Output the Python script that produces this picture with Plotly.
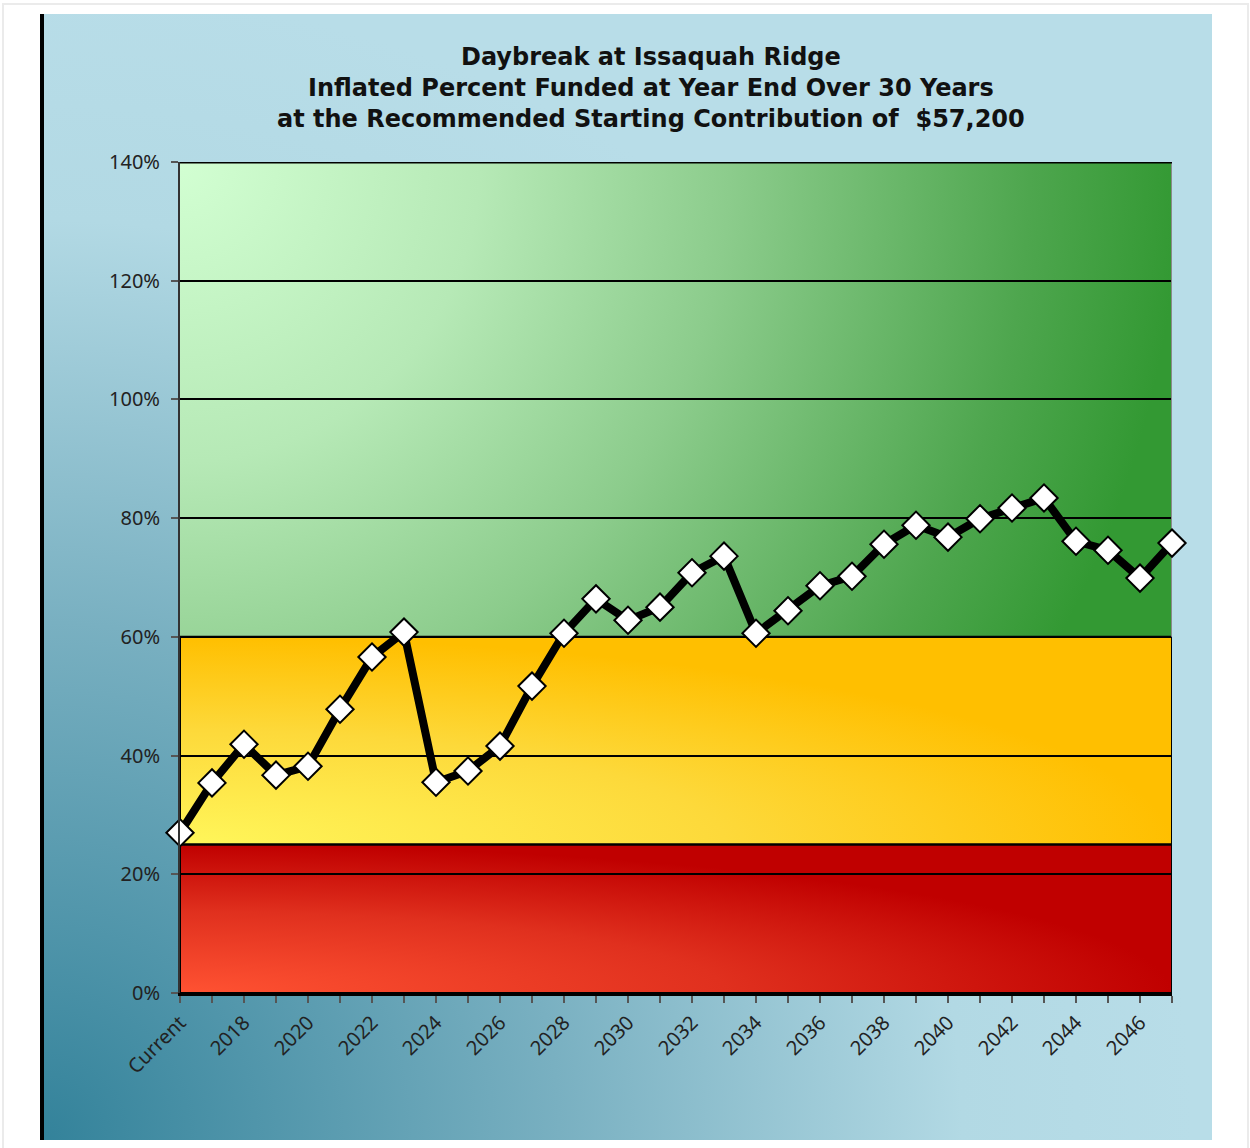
import base64
import plotly.graph_objects as go

# ---------------- data ----------------
categories = ["Current"] + [str(y) for y in range(2017, 2048)]
percent_funded = [27.0, 35.4, 41.9, 36.7, 38.2, 47.8, 56.6, 60.8, 35.5, 37.4,
                  41.6, 51.7, 60.6, 66.4, 62.8, 65.0, 70.8, 73.6, 60.6, 64.4,
                  68.6, 70.2, 75.6, 78.8, 76.8, 79.9, 81.7, 83.4, 76.1, 74.6,
                  69.9, 75.8]
y_ticks = [0, 20, 40, 60, 80, 100, 120, 140]
y_tick_labels = ["0%", "20%", "40%", "60%", "80%", "100%", "120%", "140%"]
band_edges = [0, 25, 60, 140]   # red / yellow / green zones
title_lines = ["Daybreak at Issaquah Ridge",
               "Inflated Percent Funded at Year End Over 30 Years",
               "at the Recommended Starting Contribution of  $57,200"]

x_idx = list(range(len(categories)))
x_labels = [c if i % 2 == 0 else "" for i, c in enumerate(categories)]
x_max = len(categories) - 1

# ---------------- gradient images ----------------
def svg_uri(svg):
    return "data:image/svg+xml;base64," + base64.b64encode(svg.encode()).decode()

def radial_svg(w, h, cx, cy, r, stops):
    st = "".join(f'<stop offset="{o}" stop-color="{c}"/>' for o, c in stops)
    return (f'<svg xmlns="http://www.w3.org/2000/svg" width="{w}" height="{h}" '
            f'viewBox="0 0 {w} {h}" preserveAspectRatio="none">'
            f'<defs><radialGradient id="g" gradientUnits="userSpaceOnUse" '
            f'cx="{cx}" cy="{cy}" r="{r}" fx="{cx}" fy="{cy}">{st}</radialGradient></defs>'
            f'<rect x="0" y="0" width="{w}" height="{h}" fill="url(#g)"/></svg>')

def bbox_radial_svg(stops):
    st = "".join(f'<stop offset="{o}" stop-color="{c}"/>' for o, c in stops)
    return ('<svg xmlns="http://www.w3.org/2000/svg" width="100" height="100" '
            'viewBox="0 0 100 100" preserveAspectRatio="none">'
            '<defs><radialGradient id="g" gradientUnits="userSpaceOnUse" '
            f'cx="0" cy="100" r="100" fx="0" fy="100">{st}</radialGradient></defs>'
            '<rect x="0" y="0" width="100" height="100" fill="url(#g)"/></svg>')

bg_svg = radial_svg(1170, 1126, 0, 1126, 1150,
                    [(0, "#33829a"), (0.45, "#79b0c1"), (0.8, "#b2d9e4"), (1, "#b8dde8")])
green_svg = radial_svg(992, 475, 0, 0, 1000,
                       [(0, "#d2ffd2"), (0.3, "#b6e9b6"), (0.55, "#8ccc8c"),
                        (0.85, "#4ea64e"), (1, "#339933")])
yellow_svg = bbox_radial_svg([(0, "#fff65a"), (0.55, "#fdd93a"), (1, "#ffbf00")])
red_svg = bbox_radial_svg([(0, "#ff5232"), (0.55, "#e0301e"), (1, "#c00000")])

L, R, T, B = 180, 78, 162, 155
W, H = 1250, 1148
pw, ph = W - L - R, H - T - B

def px_x(x):
    return (x - L) / pw

def px_y(y):
    return (H - B - y) / ph

images = [
    dict(source=svg_uri(bg_svg), xref="paper", yref="paper",
         x=px_x(42), y=px_y(14), sizex=px_x(1212) - px_x(42), sizey=px_y(14) - px_y(1140),
         xanchor="left", yanchor="top", sizing="stretch", layer="below"),
]
for (lo, hi), svg in zip(zip(band_edges[:-1], band_edges[1:]), [red_svg, yellow_svg, green_svg]):
    images.append(dict(source=svg_uri(svg), xref="x", yref="y", x=0, y=hi,
                       sizex=x_max, sizey=hi - lo, xanchor="left", yanchor="top",
                       sizing="stretch", layer="below"))

shapes = [
    # outer light frame
    dict(type="rect", xref="paper", yref="paper", x0=px_x(3), x1=px_x(1248),
         y0=px_y(1170), y1=px_y(4), line=dict(color="#ebebeb", width=2)),
    # left black bar
    dict(type="line", xref="paper", yref="paper", x0=px_x(42), x1=px_x(42),
         y0=px_y(14), y1=px_y(1140), line=dict(color="black", width=4)),
    # band outlines (red & yellow)
    dict(type="rect", xref="x", yref="y", x0=0, x1=x_max, y0=band_edges[0], y1=band_edges[1],
         line=dict(color="black", width=2), layer="between"),
    dict(type="rect", xref="x", yref="y", x0=0, x1=x_max, y0=band_edges[1], y1=band_edges[2],
         line=dict(color="black", width=2), layer="between"),
    # green right edge gray
    dict(type="line", xref="x", yref="y", x0=x_max, x1=x_max, y0=band_edges[2], y1=band_edges[3],
         line=dict(color="#8a8a8a", width=2), layer="between"),
    # top border
    dict(type="line", xref="x", yref="y", x0=0, x1=x_max, y0=band_edges[3], y1=band_edges[3],
         line=dict(color="black", width=3), layer="between"),
]

annotations = [
    dict(text="<b>" + "<br>".join(title_lines) + "</b>", xref="paper", yref="paper",
         x=px_x(651), y=px_y(88), xanchor="center", yanchor="middle", align="center",
         showarrow=False, font=dict(family="DejaVu Sans", size=24, color="#111111"))
]

fig = go.Figure()
fig.add_trace(go.Scatter(
    x=x_idx, y=percent_funded, mode="lines+markers",
    line=dict(color="black", width=8),
    marker=dict(symbol="diamond", size=21, color="white", line=dict(color="black", width=2)),
    cliponaxis=False, hoverinfo="skip", showlegend=False,
))

fig.update_layout(
    width=W, height=H,
    margin=dict(l=L, r=R, t=T, b=B, pad=0),
    paper_bgcolor="white", plot_bgcolor="rgba(0,0,0,0)",
    images=images, shapes=shapes, annotations=annotations,
    font=dict(family="Noto Sans", size=20, color="#222222"),
    xaxis=dict(range=[0, x_max], tickmode="array", tickvals=x_idx, ticktext=x_labels,
               tickangle=-45, showgrid=False, zeroline=False,
               showline=True, linecolor="black", linewidth=3,
               ticks="outside", ticklen=7, tickcolor="#555555", tickwidth=1.5,
               tickfont=dict(family="Noto Sans", size=20, color="#222222")),
    yaxis=dict(range=[0, 140], tickmode="array", tickvals=y_ticks, ticktext=y_tick_labels,
               showgrid=True, gridcolor="black", gridwidth=1.5, zeroline=False,
               showline=True, linecolor="#333333", linewidth=2,
               ticks="outside", ticklen=7, tickcolor="#555555", tickwidth=1.5,
               ticklabelstandoff=7,
               tickfont=dict(family="Noto Sans", size=20, color="#222222")),
)

fig.write_html("out.html")
